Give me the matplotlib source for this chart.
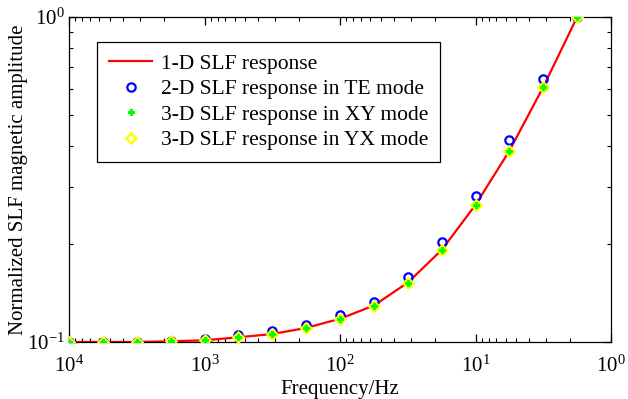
"""
SLF magnetic amplitude vs frequency: 1-D, 2-D and 3-D responses
"""
import matplotlib
matplotlib.use('Agg')
import matplotlib.pyplot as plt
import numpy as np
from matplotlib.ticker import LogLocator, LogFormatterMathtext, NullFormatter

plt.rcParams['font.family'] = ['Liberation Serif', 'DejaVu Serif']
plt.rcParams['mathtext.fontset'] = 'custom'
plt.rcParams['mathtext.rm'] = 'Liberation Serif'
plt.rcParams['mathtext.it'] = 'Liberation Serif:italic'

# frequencies, 4 samples per decade from 10^4 Hz downwards
freq = [10000, 5623, 3162, 1778, 1000, 562.3, 316.2, 177.8,
        100, 56.23, 31.62, 17.78, 10, 5.623, 3.162, 1.778]

# normalized amplitudes
resp_1d = [0.1000, 0.1000, 0.1000, 0.1005, 0.1012, 0.1034, 0.1058, 0.1105,
           0.1179, 0.1295, 0.1523, 0.1919, 0.2641, 0.3875, 0.609, 1.0]
resp_2d_te = [0.1000, 0.1000, 0.1002, 0.1008, 0.1021, 0.1050, 0.1083, 0.1127,
              0.1208, 0.1332, 0.1589, 0.2031, 0.2814, 0.4187, 0.644, 1.0]
resp_3d_xy = [0.1000, 0.1000, 0.1000, 0.1005, 0.1012, 0.1034, 0.1058, 0.1105,
              0.1179, 0.1295, 0.1523, 0.1919, 0.2641, 0.3875, 0.609, 1.0]
resp_3d_yx = [0.1000, 0.1000, 0.1000, 0.1005, 0.1012, 0.1034, 0.1058, 0.1105,
              0.1179, 0.1295, 0.1523, 0.1919, 0.2641, 0.3875, 0.609, 1.0]

fig = plt.figure(figsize=(6.28, 3.99), dpi=100)
ax = fig.add_axes([69/628, 1 - 342/399, 542/628, 325/399])

ax.plot(freq, resp_1d, color='red', linewidth=1.6, label='1-D SLF response', zorder=2)
ax.plot(freq, resp_2d_te, linestyle='none', marker='o', markersize=6,
        markerfacecolor='none', markeredgecolor='blue', markeredgewidth=1.6,
        label='2-D SLF response in TE mode', zorder=3)
ax.plot(freq, resp_3d_xy, linestyle='none', marker='P', markersize=5,
        color=(0, 1, 0), markeredgewidth=0.8,
        label='3-D SLF response in XY mode', zorder=5)
ax.plot(freq, resp_3d_yx, linestyle='none', marker='D', markersize=5.5,
        markerfacecolor='none', markeredgecolor='yellow', markeredgewidth=1.8,
        label='3-D SLF response in YX mode', zorder=4)

ax.set_xscale('log')
ax.set_yscale('log')
ax.set_xlim(1e4, 1e0)
ax.set_ylim(0.1, 1.0)

ax.xaxis.set_major_locator(LogLocator(base=10))
ax.xaxis.set_major_formatter(LogFormatterMathtext())
ax.xaxis.set_minor_locator(LogLocator(base=10, subs=np.arange(2, 10)))
ax.xaxis.set_minor_formatter(NullFormatter())
ax.yaxis.set_major_locator(LogLocator(base=10))
ax.yaxis.set_major_formatter(LogFormatterMathtext())
ax.yaxis.set_minor_locator(LogLocator(base=10, subs=np.arange(2, 10)))
ax.yaxis.set_minor_formatter(NullFormatter())

ax.tick_params(which='both', direction='in', top=True, right=True, labelsize=15)
ax.tick_params(axis='x', which='major', pad=10)
ax.tick_params(axis='y', which='major', pad=3)
ax.tick_params(which='major', length=6, width=0.9)
ax.tick_params(which='minor', length=3, width=0.8)
for s in ax.spines.values():
    s.set_linewidth(0.9)

ax.set_xlabel('Frequency/Hz', fontsize=15, labelpad=2)
ax.set_ylabel('Normalized SLF magnetic amplitude', fontsize=15, labelpad=-1)

leg = ax.legend(loc='upper left', bbox_to_anchor=(0.052, 0.923), borderaxespad=0,
                fontsize=15.5, frameon=True, fancybox=False, framealpha=1,
                edgecolor='black', handlelength=2.0, handletextpad=0.4,
                labelspacing=0.25, borderpad=0.55)
leg.get_frame().set_linewidth(0.9)

fig.savefig('out.png', dpi=100)
